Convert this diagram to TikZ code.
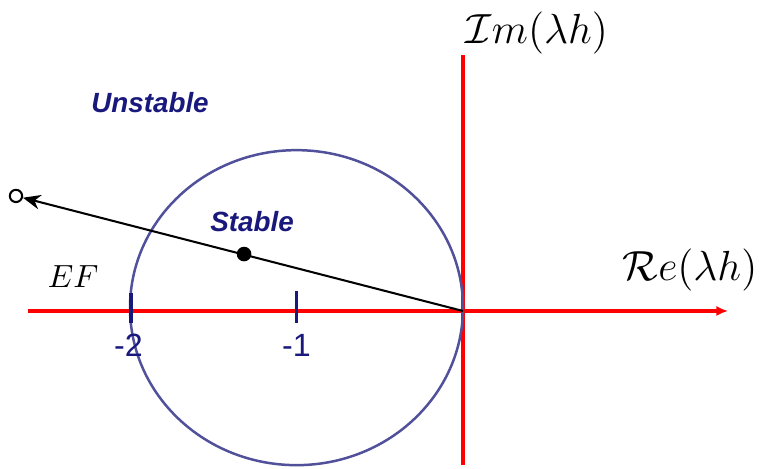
\documentclass[tikz,border=0pt]{standalone}
\usepackage{fontspec}
\usetikzlibrary{arrows.meta}
\newfontfamily\plotfont{Liberation Sans}
\definecolor{plotnavy}{RGB}{25,25,125}
\definecolor{circblue}{RGB}{80,80,155}
\tikzset{
   axisline/.style={red, line width=1.4pt},
   tickmark/.style={plotnavy, line width=1.3pt},
   ticklabel/.style={plotnavy, font=\plotfont\fontsize{11}{13}\selectfont},
   region/.style={plotnavy, font=\plotfont\bfseries\itshape\fontsize{9.5}{11}\selectfont},
   axislabel/.style={font=\fontsize{15.5}{18}\selectfont},
}
\begin{document}
\begin{tikzpicture}[x=2cm, y=2cm]
   \useasboundingbox (-2.781,-0.949) rectangle (1.826,1.868);

   % axes
   \coordinate (O) at (0,0);
   \coordinate (xl) at (-2.613,0);
   \coordinate (xr) at (1.592,0);
   \coordinate (yt) at (0,1.538);
   \coordinate (yb) at (0,-0.925);
   \draw[axisline, -{Latex[length=4pt, width=3.5pt]}] (xl) -- (xr);
   \draw[axisline] (yb) -- (yt);
   \node[axislabel] (re) at (1.363,0.246) {$\mathcal{R}e(\lambda h)$};
   \node[axislabel] (im) at (0.444,1.670) {$\mathcal{I}m(\lambda h)$};

   % stability region
   \draw[circblue, line width=0.85pt] (-1,0.02) ellipse [x radius=1, y radius=0.946];
   \draw[tickmark] (-1.992,-0.07) -- (-1.992,0.11);
   \draw[tickmark] (-1,-0.07) -- (-1,0.12);
   \node[ticklabel] (m2) at (-2.01,-0.204) {-2};
   \node[ticklabel] (m1) at (-1,-0.204) {-1};
   \node[region] (unstable) at (-1.880,1.249) {Unstable};
   \node[region] (stable) at (-1.267,0.535) {Stable};
   \node[font=\fontsize{10.5}{12}\selectfont] (ef) at (-2.342,0.204) {$EF$};

   % eigenvalue ray
   \node[circle, draw, fill=white, line width=0.7pt, inner sep=0pt, minimum size=4.2pt] (far) at (-2.685,0.691) {};
   \node[circle, fill=black, inner sep=0pt, minimum size=5pt] (near) at (-1.315,0.342) {};
   \draw[line width=0.7pt, -{Stealth[length=6pt, width=5pt]}] (O) -- (far);
\end{tikzpicture}
\end{document}
